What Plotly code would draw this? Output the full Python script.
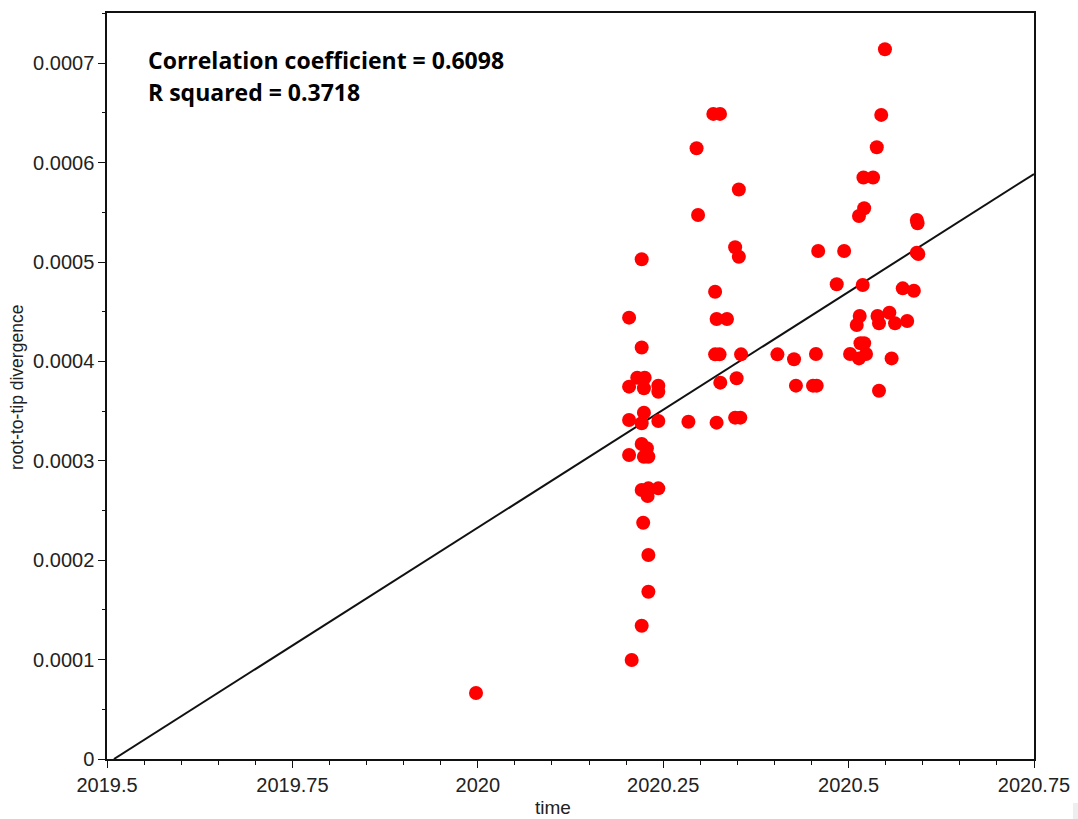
import plotly.graph_objects as go

# sampling dates (decimal years) and root-to-tip divergence of each tip
time = [
    2019.9976, 2020.2075, 2020.221, 2020.230, 2020.230, 2020.223, 2020.221, 2020.230,
    2020.2434, 2020.229, 2020.204, 2020.224, 2020.230, 2020.221, 2020.228, 2020.204,
    2020.224, 2020.221, 2020.2434, 2020.284, 2020.215, 2020.225, 2020.204, 2020.224,
    2020.2434, 2020.2434, 2020.221, 2020.204, 2020.221,
    2020.3176, 2020.3266, 2020.295, 2020.352, 2020.297, 2020.347, 2020.352, 2020.320,
    2020.322, 2020.336, 2020.320, 2020.326, 2020.355, 2020.404, 2020.327, 2020.349,
    2020.322, 2020.347, 2020.354,
    2020.549, 2020.544, 2020.538, 2020.520, 2020.533, 2020.521, 2020.514, 2020.592,
    2020.593, 2020.459, 2020.494, 2020.592, 2020.594, 2020.484, 2020.519, 2020.573,
    2020.588, 2020.515, 2020.511, 2020.539, 2020.555, 2020.541, 2020.5626, 2020.579,
    2020.516, 2020.521, 2020.502, 2020.514, 2020.5235, 2020.558, 2020.4264, 2020.456,
    2020.429, 2020.452, 2020.457, 2020.541,
]
divergence = [
    0.0000664, 0.0000996, 0.0001341, 0.0001683, 0.0002052, 0.0002377, 0.0002706, 0.0002723,
    0.0002723, 0.0002646, 0.0003058, 0.0003040, 0.0003040, 0.0003169, 0.0003126, 0.0003410,
    0.0003484, 0.0003377, 0.0003400, 0.0003393, 0.0003836, 0.0003836, 0.0003746, 0.0003730,
    0.0003756, 0.0003695, 0.0004140, 0.0004440, 0.0005027,
    0.0006490, 0.0006490, 0.0006144, 0.0005730, 0.0005473, 0.0005148, 0.0005053, 0.0004701,
    0.0004427, 0.0004427, 0.0004071, 0.0004071, 0.0004071, 0.0004071, 0.0003786, 0.0003830,
    0.0003384, 0.0003434, 0.0003434,
    0.0007140, 0.0006480, 0.0006154, 0.0005850, 0.0005850, 0.0005540, 0.0005463, 0.0005423,
    0.0005390, 0.0005110, 0.0005110, 0.0005094, 0.0005080, 0.0004776, 0.0004769, 0.0004735,
    0.0004711, 0.0004457, 0.0004366, 0.0004457, 0.0004490, 0.0004383, 0.0004383, 0.0004406,
    0.0004182, 0.0004182, 0.0004074, 0.0004030, 0.0004074, 0.0004030, 0.0004021, 0.0004074,
    0.0003756, 0.0003756, 0.0003756, 0.0003705,
]

# regression line: x-intercept (root date) and rate
root_date = 2019.5094
rate = 0.0004744
line_x = [root_date, 2020.75]
line_y = [rate * (x - root_date) for x in line_x]

x_ticks = [2019.5, 2019.75, 2020.0, 2020.25, 2020.5, 2020.75]
x_tick_text = ["2019.5", "2019.75", "2020", "2020.25", "2020.5", "2020.75"]
y_ticks = [0, 0.0001, 0.0002, 0.0003, 0.0004, 0.0005, 0.0006, 0.0007]
y_tick_text = ["0", "0.0001", "0.0002", "0.0003", "0.0004", "0.0005", "0.0006", "0.0007"]

stats_lines = ["Correlation coefficient = 0.6098", "R squared = 0.3718"]

# plot box in pixels (used to place paper-referenced text)
L, R, T, B = 107, 1034, 13, 759
W, H = R - L, B - T


def px(x):
    return (x - L) / W


def py(y):
    return (B - y) / H


fig = go.Figure()
fig.add_trace(go.Scatter(
    x=line_x, y=line_y, mode="lines",
    line=dict(color="#111111", width=2), hoverinfo="skip",
))
fig.add_trace(go.Scatter(
    x=time, y=divergence, mode="markers",
    marker=dict(color="#ff0000", size=14, line=dict(width=0)),
))

sans = "Liberation Sans, Arial, sans-serif"
axis_font = dict(family=sans, size=20, color="#222222")

annotations = []
for i, txt in enumerate(stats_lines):
    annotations.append(dict(
        text=txt, xref="paper", yref="paper", x=px(146), y=py(60 + 32 * i),
        xanchor="left", yanchor="middle", align="left", showarrow=False,
        font=dict(family="Open Sans, sans-serif", size=23, color="black", weight="bold"),
    ))
annotations.append(dict(
    text="time", xref="paper", yref="paper", x=px(553), y=py(807),
    xanchor="center", yanchor="middle", showarrow=False,
    font=dict(family=sans, size=19, color="#222222"),
))
annotations.append(dict(
    text="root-to-tip divergence", xref="paper", yref="paper", x=px(17), y=py(388),
    xanchor="center", yanchor="middle", textangle=-90, showarrow=False,
    font=dict(family=sans, size=17.5, color="#222222"),
))

fig.update_layout(
    width=1078, height=819,
    margin=dict(l=L, r=1078 - R, t=T, b=819 - B),
    paper_bgcolor="white", plot_bgcolor="white",
    showlegend=False,
    xaxis=dict(
        range=[2019.5, 2020.75], tickvals=x_ticks, ticktext=x_tick_text,
        showgrid=False, zeroline=False, showline=True, linecolor="#111111", linewidth=1.5,
        mirror=True, ticks="outside", ticklen=7, tickcolor="#111111",
        tickfont=axis_font, automargin=False,
        minor=dict(dtick=0.05, tick0=2019.5, ticks="outside", ticklen=4, tickcolor="#111111", showgrid=False),
    ),
    yaxis=dict(
        range=[0, 0.0007505], tickvals=y_ticks, ticktext=y_tick_text,
        showgrid=False, zeroline=False, showline=True, linecolor="#111111", linewidth=1.5,
        mirror=True, ticks="outside", ticklen=7, tickcolor="#111111",
        tickfont=axis_font, automargin=False,
        minor=dict(dtick=0.00005, tick0=0, ticks="outside", ticklen=3, tickcolor="#111111", showgrid=False),
    ),
    annotations=annotations,
    shapes=[dict(
        type="rect", xref="paper", yref="paper",
        x0=px(1073), x1=px(1078), y0=py(819), y1=py(803),
        fillcolor="#eeeeee", line=dict(width=0), layer="below",
    )],
)

fig.write_html("out.html")
